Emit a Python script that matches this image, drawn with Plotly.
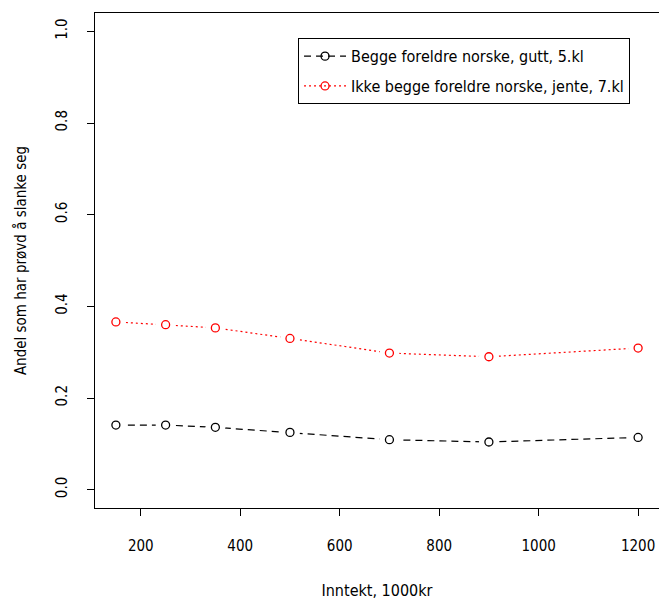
import plotly.graph_objects as go

income = [150, 250, 350, 500, 700, 900, 1200]
boys_5 = [0.141, 0.141, 0.136, 0.125, 0.109, 0.104, 0.114]
girls_7 = [0.366, 0.360, 0.353, 0.330, 0.298, 0.290, 0.309]
series_names = ["Begge foreldre norske, gutt, 5.kl", "Ikke begge foreldre norske, jente, 7.kl"]
x_ticks = [200, 400, 600, 800, 1000, 1200]
y_ticks = [0.0, 0.2, 0.4, 0.6, 0.8, 1.0]
y_tick_labels = ["0.0", "0.2", "0.4", "0.6", "0.8", "1.0"]

FONT = "DejaVu Sans Condensed, Roboto, sans-serif"
fig = go.Figure()

for i, (ys, name, color, dash) in enumerate([
    (boys_5, series_names[0], "black", "7px,5px"),
    (girls_7, series_names[1], "red", "2px,3px"),
]):
    fig.add_trace(go.Scatter(
        x=income, y=ys, mode="lines+markers", name=name, legendgroup=f"g{i}",
        line=dict(color=color, width=1.2, dash=dash),
        marker=dict(symbol="circle-open", size=8, color=color, line=dict(width=1.3)),
        showlegend=True,
    ))
    fig.add_trace(go.Scatter(
        x=income, y=ys, mode="markers", showlegend=False, hoverinfo="skip",
        legendgroup=f"g{i}",
        marker=dict(symbol="circle", size=20, color="white", line=dict(width=0)),
    ))
    fig.add_trace(go.Scatter(
        x=income, y=ys, mode="markers", showlegend=False, legendgroup=f"g{i}",
        marker=dict(symbol="circle-open", size=8, color=color, line=dict(width=1.3)),
    ))

fig.update_layout(
    width=659, height=600,
    margin=dict(l=95, r=0, t=13, b=92),
    plot_bgcolor="white", paper_bgcolor="white",
    font=dict(family=FONT, size=15, color="black"),
    showlegend=True,
    legend=dict(
        x=0.36, y=0.949, xanchor="left", yanchor="top",
        bordercolor="black", borderwidth=1, bgcolor="white",
        font=dict(family=FONT, size=16),
        itemwidth=42, tracegroupgap=6,
    ),
    xaxis=dict(
        range=[108, 1242], tickvals=x_ticks, ticktext=[str(v) for v in x_ticks],
        showline=True, linecolor="black", linewidth=1, mirror=True,
        ticks="outside", ticklen=7, tickcolor="black", showgrid=False, zeroline=False,
        ticklabelstandoff=17,
        title=dict(text="Inntekt, 1000kr", standoff=31,
                   font=dict(family=FONT, size=16, color="black")),
    ),
    yaxis=dict(
        range=[-0.04, 1.04], tickvals=y_ticks, ticktext=y_tick_labels, tickangle=-90,
        showline=True, linecolor="black", linewidth=1, mirror=True,
        ticks="outside", ticklen=7, tickcolor="black", showgrid=False, zeroline=False,
        ticklabelstandoff=14,
        title=dict(text="Andel som har prøvd å slanke seg", standoff=22,
                   font=dict(family=FONT, size=15, color="black")),
    ),
)

fig.write_html("out.html")
